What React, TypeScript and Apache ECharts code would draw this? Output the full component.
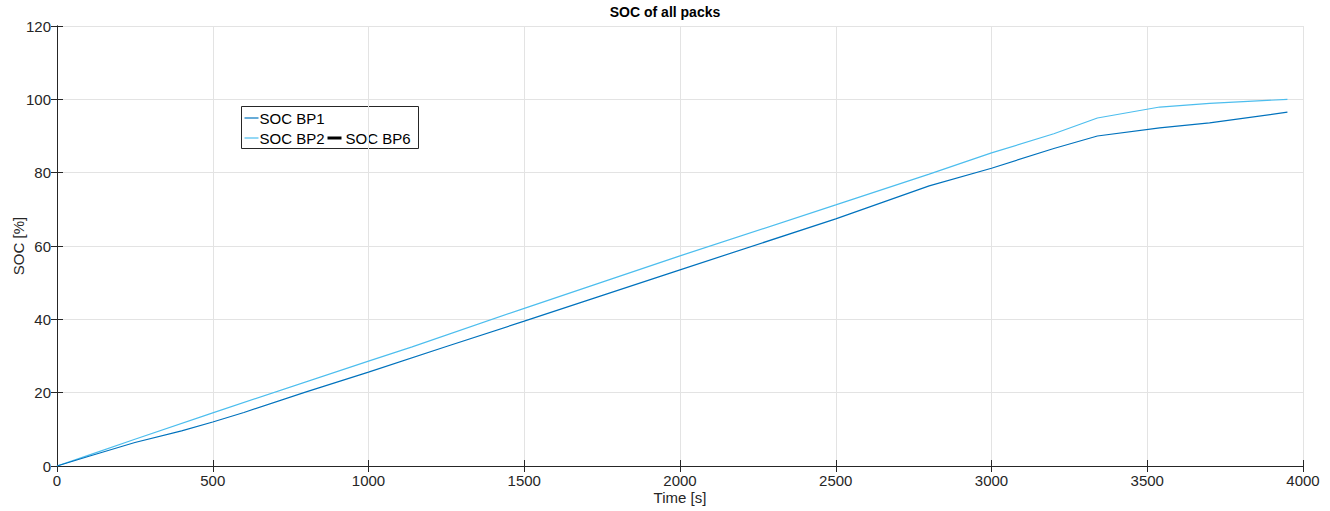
import React, { useEffect, useRef } from "react";
import * as echarts from "echarts";

const title = "SOC of all packs";
const xName = "Time [s]";
const yName = "SOC [%]";

const timeBP1 = [0, 100, 250, 400, 500, 600, 800, 1000, 1250, 1500, 2000, 2500, 2800, 3000, 3200, 3340, 3540, 3700, 3950];
const socBP1 = [0, 2.6, 6.4, 9.6, 12, 14.6, 20.2, 25.6, 32.6, 39.5, 53.5, 67.4, 76.4, 81.2, 86.6, 90, 92.2, 93.6, 96.5];

const timeBP2 = [0, 100, 250, 500, 1000, 1140, 1500, 2000, 2500, 2800, 3000, 3200, 3340, 3540, 3700, 3950];
const socBP2 = [0, 2.9, 7.3, 14.5, 28.6, 32.5, 43, 57.3, 71.2, 79.6, 85.4, 90.6, 94.9, 97.9, 98.9, 100];

const timeBP6: number[] = [];
const socBP6: number[] = [];

const pair = (xs: number[], ys: number[]) => xs.map((x, i) => [x, ys[i]]);

export default function App() {
  const ref = useRef<HTMLDivElement>(null);
  useEffect(() => {
    if (!ref.current) return;
    document.body.style.margin = "0";
    const chart = echarts.init(ref.current, undefined, { renderer: "svg" });
    const axisColor = "#262626";
    const font = "Liberation Sans, Arial, sans-serif";
    const common = {
      axisLine: { show: true, lineStyle: { color: axisColor, width: 1 } },
      axisTick: { show: true, inside: true, length: 6, lineStyle: { color: axisColor } },
    };
    const fmt = (v: number) => String(v);
    chart.setOption({
      animation: false,
      backgroundColor: "#ffffff",
      title: {
        text: title,
        left: "center",
        top: 0,
        textStyle: { fontFamily: font, fontSize: 14, fontWeight: "bold", color: "#000" },
      },
      grid: { left: 57, right: 27, top: 26, bottom: 45, containLabel: false, outerBoundsMode: "none" },
      xAxis: [
        {
          type: "value",
          min: 0,
          max: 4000,
          interval: 500,
          name: xName,
          nameLocation: "middle",
          nameGap: 24,
          nameMoveOverlap: false,
          nameTextStyle: { fontFamily: font, fontSize: 15, color: axisColor },
          axisLabel: { fontFamily: font, fontSize: 15, color: axisColor, margin: 7, formatter: fmt },
          splitLine: { show: true, lineStyle: { color: "#e3e3e3" } },
          ...common,
        },
        {
          type: "value",
          position: "top",
          min: 0,
          max: 4000,
          interval: 500,
          axisLabel: { show: false },
          splitLine: { show: false },
          ...common,
        },
      ],
      yAxis: [
        {
          type: "value",
          min: 0,
          max: 120,
          interval: 20,
          name: yName,
          nameLocation: "middle",
          nameGap: 31,
          nameMoveOverlap: false,
          nameTextStyle: { fontFamily: font, fontSize: 15, color: axisColor },
          axisLabel: { fontFamily: font, fontSize: 15, color: axisColor, margin: 6, formatter: fmt },
          splitLine: { show: true, lineStyle: { color: "#e3e3e3" } },
          ...common,
        },
        {
          type: "value",
          position: "right",
          min: 0,
          max: 120,
          interval: 20,
          axisLabel: { show: false },
          splitLine: { show: false },
          ...common,
        },
      ],
      series: [
        {
          name: "SOC BP2",
          type: "line",
          data: pair(timeBP2, socBP2),
          showSymbol: false,
          lineStyle: { color: "#4DBEEE", width: 1.2 },
          itemStyle: { color: "#4DBEEE" },
        },
        {
          name: "SOC BP1",
          type: "line",
          data: pair(timeBP1, socBP1),
          showSymbol: false,
          lineStyle: { color: "#0072BD", width: 1.2 },
          itemStyle: { color: "#0072BD" },
        },
        {
          name: "SOC BP6",
          type: "line",
          data: pair(timeBP6, socBP6),
          showSymbol: false,
          lineStyle: { color: "#000000", width: 3 },
        },
      ],
      graphic: [
        {
          type: "group",
          left: 241,
          top: 106,
          children: [
            {
              type: "rect",
              shape: { x: 0, y: 0, width: 177, height: 42 },
              style: { fill: "#ffffff", stroke: "#262626", lineWidth: 1 },
            },
            { type: "line", shape: { x1: 3, y1: 11.5, x2: 17, y2: 11.5 }, style: { stroke: "#0072BD", lineWidth: 1.2 } },
            { type: "text", x: 18, y: 4, style: { text: "SOC BP1", fontFamily: font, fontSize: 15, fill: "#000" } },
            { type: "line", shape: { x1: 3, y1: 31.5, x2: 17, y2: 31.5 }, style: { stroke: "#4DBEEE", lineWidth: 1.2 } },
            { type: "text", x: 18, y: 24, style: { text: "SOC BP2", fontFamily: font, fontSize: 15, fill: "#000" } },
            { type: "line", shape: { x1: 86, y1: 31.5, x2: 100, y2: 31.5 }, style: { stroke: "#000", lineWidth: 3 } },
            { type: "text", x: 104, y: 24, style: { text: "SOC BP6", fontFamily: font, fontSize: 15, fill: "#000" } },
          ],
        },
      ],
    });
    return () => chart.dispose();
  }, []);
  return <div ref={ref} style={{ width: 1330, height: 511 }} />;
}
